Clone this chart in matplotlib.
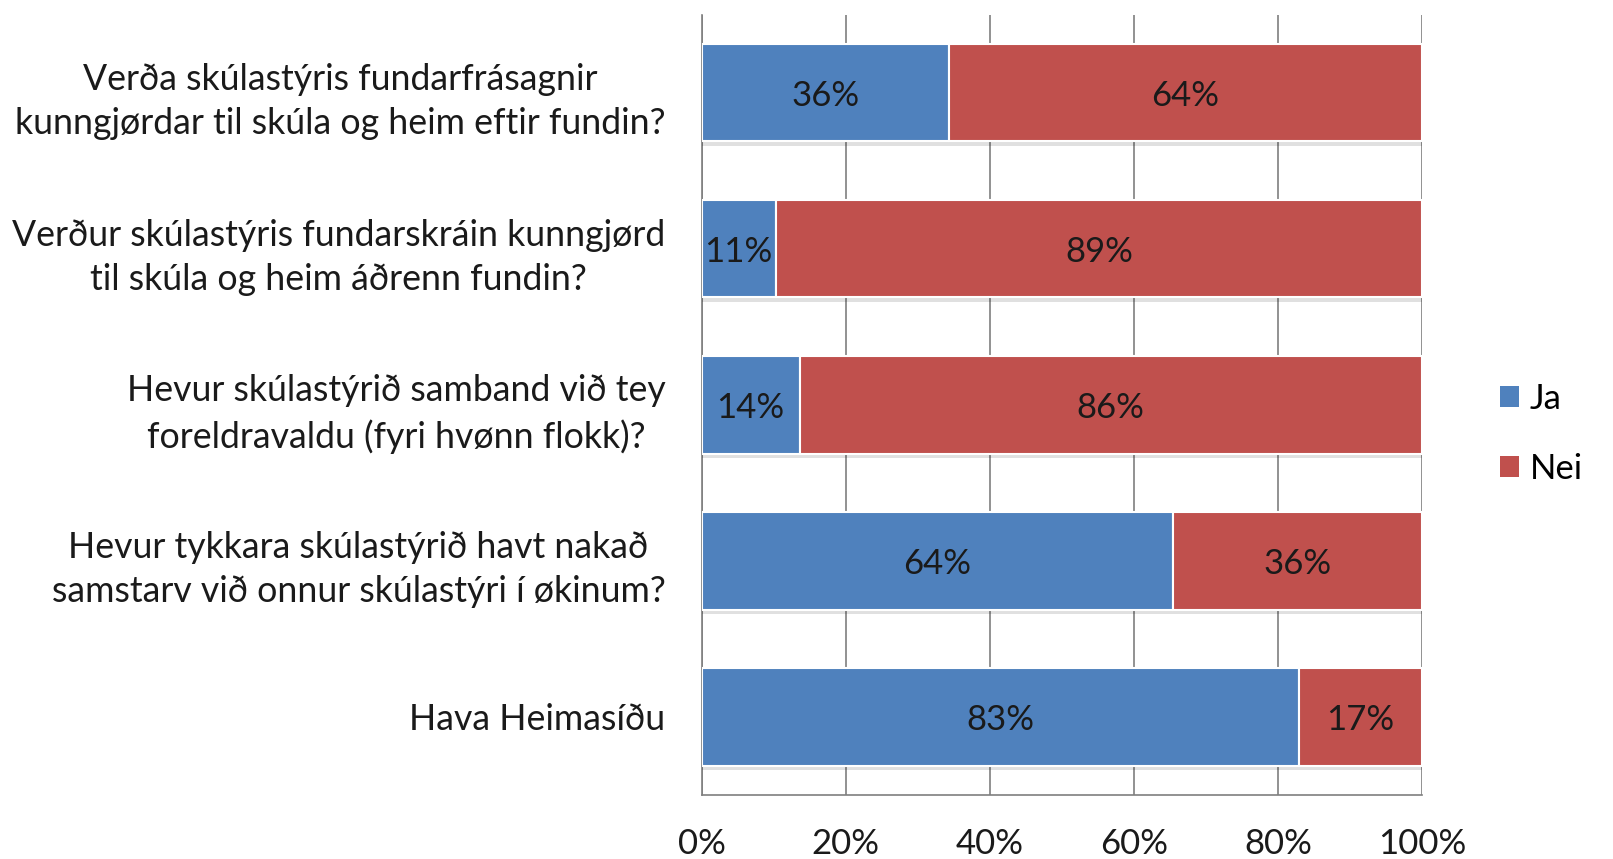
import matplotlib
matplotlib.use("Agg")
import matplotlib.pyplot as plt
import matplotlib.patheffects as pe
import numpy as np

categories = [
    "Verða skúlastýris fundarfrásagnir\nkunngjørdar til skúla og heim eftir fundin?",
    "Verður skúlastýris fundarskráin kunngjørd\ntil skúla og heim áðrenn fundin?",
    "Hevur skúlastýrið samband við tey\nforeldravaldu (fyri hvønn flokk)?",
    "Hevur tykkara skúlastýrið havt nakað\nsamstarv við onnur skúlastýri í økinum?",
    "Hava Heimasíðu",
]
ja = [34.3, 10.3, 13.6, 65.4, 82.9]
nei = [65.7, 89.7, 86.4, 34.6, 17.1]
ja_labels = ["36%", "11%", "14%", "64%", "83%"]
nei_labels = ["64%", "89%", "86%", "36%", "17%"]
xticks = [0, 20, 40, 60, 80, 100]
xticklabels = ["0%", "20%", "40%", "60%", "80%", "100%"]

plt.rcParams['font.family'] = ['Lato', 'DejaVu Sans']
blue = "#4F81BD"
red = "#C0504D"
txt = "#1a1a1a"
fs = 25

fig = plt.figure(figsize=(16.13, 8.59), dpi=100)
ax = fig.add_axes([0.435, 0.0745, 0.4465, 0.9085])

y = np.arange(len(categories))
shadow = [pe.SimplePatchShadow(offset=(0, -3), shadow_rgbFace='k', alpha=0.12), pe.Normal()]
b1 = ax.barh(y, ja, height=0.625, color=blue, edgecolor='white', linewidth=1.5, label="Ja", zorder=3)
b2 = ax.barh(y, nei, left=ja, height=0.625, color=red, edgecolor='white', linewidth=1.5, label="Nei", zorder=3)
for b in list(b1) + list(b2):
    b.set_path_effects(shadow)

for i in range(len(categories)):
    ax.text(ja[i] / 2, y[i] + 0.02, ja_labels[i], ha='center', va='center', fontsize=fs, color=txt, zorder=4)
    ax.text(ja[i] + nei[i] / 2, y[i] + 0.02, nei_labels[i], ha='center', va='center', fontsize=fs, color=txt, zorder=4)

ax.set_xlim(0, 100)
ax.set_ylim(len(categories) - 0.5, -0.5)
ax.set_xticks(xticks)
ax.set_xticklabels(xticklabels, fontsize=fs, color=txt)
ax.set_yticks(y)
ax.set_yticklabels(categories, fontsize=25.7, color=txt, linespacing=1.42)
for t in ax.get_yticklabels():
    t.set_horizontalalignment('right')
    t.set_multialignment('center')
ax.tick_params(axis='y', length=0, pad=26)
ax.tick_params(axis='x', length=0, pad=24)
ax.grid(axis='x', color='#7f7f7f', linewidth=1.2, zorder=0)
for s in ['top', 'right']:
    ax.spines[s].set_visible(False)
for s in ['left', 'bottom']:
    ax.spines[s].set_color('#7f7f7f')
    ax.spines[s].set_linewidth(1.2)

leg = fig.legend(handles=[b1, b2], labels=["Ja", "Nei"], loc='center left',
                 bbox_to_anchor=(0.93, 0.495), frameon=False, fontsize=fs,
                 handlelength=0.55, handleheight=0.55, handletextpad=0.3, labelspacing=1.1,
                 borderpad=0, borderaxespad=0)
for h in leg.legend_handles:
    h.set_path_effects([])
    h.set_edgecolor('none')

fig.savefig("out.png", dpi=100)
